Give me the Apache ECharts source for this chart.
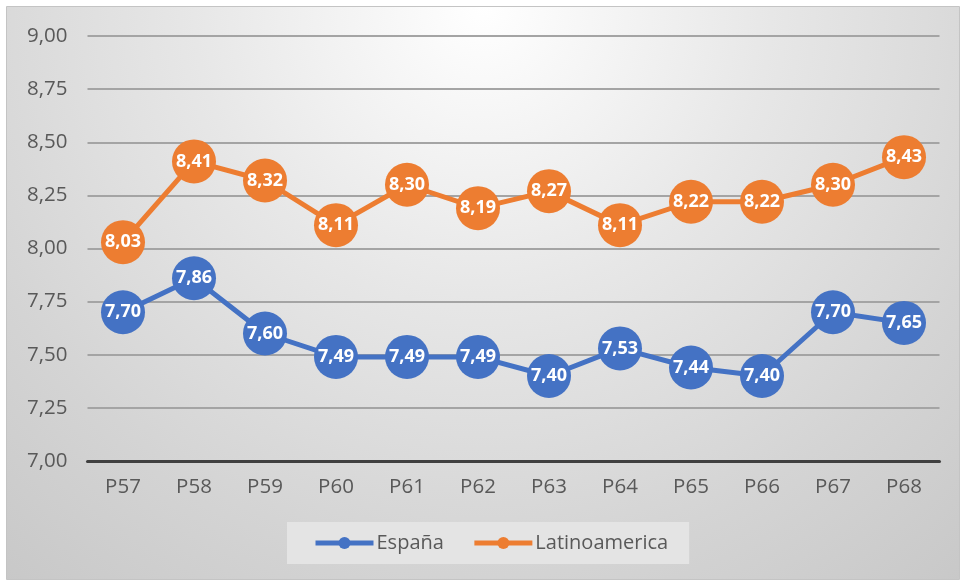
<!DOCTYPE html>
<html>
<head>
<meta charset="utf-8">
<script src="https://cdn.jsdelivr.net/npm/echarts@6/dist/echarts.min.js"></script>
<style>
  html, body { margin: 0; padding: 0; background: #ffffff; }
  #chart { width: 964px; height: 581px; }
</style>
</head>
<body>
<div id="chart"></div>
<script>
// Survey periods and average scores per region
const periods = ['P57', 'P58', 'P59', 'P60', 'P61', 'P62', 'P63', 'P64', 'P65', 'P66', 'P67', 'P68'];
const espana = [7.70, 7.86, 7.60, 7.49, 7.49, 7.49, 7.40, 7.53, 7.44, 7.40, 7.70, 7.65];
const latinoamerica = [8.03, 8.41, 8.32, 8.11, 8.30, 8.19, 8.27, 8.11, 8.22, 8.22, 8.30, 8.43];

const FONT = '"Open Sans", "Noto Sans", sans-serif';
const fmt = v => Number(v).toFixed(2).replace('.', ',');

const chart = echarts.init(document.getElementById('chart'), null, { renderer: 'canvas' });

function lineSeries(name, data, color) {
  return {
    name: name,
    type: 'line',
    data: data,
    symbol: 'circle',
    symbolSize: 44,
    z: 3,
    lineStyle: { color: color, width: 5 },
    itemStyle: { color: color },
    label: {
      show: true,
      position: 'inside',
      color: '#ffffff',
      fontFamily: FONT,
      fontWeight: 'bold',
      fontSize: 18,
      formatter: p => fmt(p.value)
    },
    emphasis: { disabled: true }
  };
}

chart.setOption({
  animation: false,
  backgroundColor: '#ffffff',
  graphic: [{
    type: 'rect',
    z: -10,
    silent: true,
    shape: { x: 6.5, y: 6.5, width: 953, height: 573 },
    style: {
      // light glow from the top centre, greying towards the edges
      fill: {
        type: 'radial', x: 0.5, y: 0.0, r: 1.36,
        colorStops: [
          { offset: 0, color: '#ffffff' },
          { offset: 0.37, color: '#e7e7e7' },
          { offset: 0.71, color: '#d4d4d4' },
          { offset: 1, color: '#c6c6c6' }
        ]
      },
      stroke: '#c4c4c4',
      lineWidth: 1
    }
  }],
  grid: { left: 87.5, right: 24.5, top: 36, bottom: 120, containLabel: false },
  xAxis: {
    type: 'category',
    data: periods,
    boundaryGap: true,
    axisLine: { lineStyle: { color: '#404040', width: 3 } },
    axisTick: { show: false },
    axisLabel: { color: '#595959', fontFamily: FONT, fontSize: 20.5, margin: 16 }
  },
  yAxis: {
    type: 'value',
    min: 7,
    max: 9,
    interval: 0.25,
    axisLine: { show: false },
    axisTick: { show: false },
    axisLabel: { color: '#595959', fontFamily: FONT, fontSize: 20.5, margin: 20, formatter: v => fmt(v) },
    splitLine: { lineStyle: { color: '#a4a4a4', width: 2 } }
  },
  legend: {
    data: ['España', 'Latinoamerica'],
    left: 287,
    top: 522,
    padding: [11, 21, 11, 26],
    itemGap: 28,
    itemWidth: 58,
    itemHeight: 15,
    lineStyle: { width: 5 },
    backgroundColor: '#e4e4e4',
    textStyle: { color: '#595959', fontFamily: FONT, fontSize: 20, padding: [0, 0, 0, -2] }
  },
  series: [
    lineSeries('España', espana, '#4472c4'),
    lineSeries('Latinoamerica', latinoamerica, '#ed7d31')
  ]
});
</script>
</body>
</html>
